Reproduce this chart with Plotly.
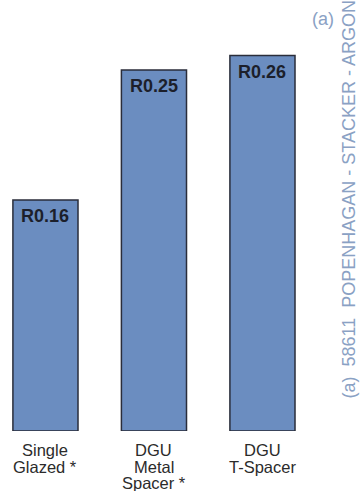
import plotly.graph_objects as go

categories = ["Single<br>Glazed *", "DGU<br>Metal<br>Spacer *", "DGU<br>T-Spacer"]
r_values = [0.16, 0.25, 0.26]
value_labels = ["R0.16", "R0.25", "R0.26"]

FONT = "Liberation Sans, Arial"

fig = go.Figure()
fig.add_trace(go.Bar(
    x=categories,
    y=r_values,
    width=0.6,
    marker=dict(color="#6b8dc0", line=dict(color="#2a2d3a", width=1.5)),
    hoverinfo="skip",
))

# value labels just inside the top of each bar
for cat, val, lab in zip(categories, r_values, value_labels):
    fig.add_annotation(
        x=cat, y=val, text=f"<b>{lab}</b>", showarrow=False,
        yanchor="top", yshift=-4,
        font=dict(family=FONT, size=18, color="#1c1f2b"),
    )

# category labels below the bars, one line per annotation for tight spacing
for cat in categories:
    for i, line in enumerate(cat.split("<br>")):
        fig.add_annotation(
            x=cat, y=0, text=line, showarrow=False,
            yanchor="top", yshift=-8 - 16.5 * i,
            font=dict(family=FONT, size=16.5, color="#2b2b2b"),
        )

fig.add_annotation(
    text="(a)", xref="paper", yref="paper", x=1.077, y=1.002,
    xanchor="center", yanchor="middle", showarrow=False,
    font=dict(family=FONT, size=18, color="#8aa1c4"),
)
fig.add_annotation(
    text="(a)  58611  POPENHAGAN - STACKER - ARGON",
    xref="paper", yref="paper", x=1.165, y=0.562,
    xanchor="center", yanchor="middle", textangle=-90, showarrow=False,
    font=dict(family=FONT, size=18, color="#8aa1c4"),
)

fig.update_layout(
    width=363, height=491,
    margin=dict(l=0, r=63, t=20, b=60),
    paper_bgcolor="white", plot_bgcolor="white",
    showlegend=False,
    xaxis=dict(range=[-0.419, 2.346], showgrid=False, zeroline=False, showline=False,
               ticks="", showticklabels=False),
    yaxis=dict(range=[0, 0.2846], visible=False),
)

fig.write_html("out.html")
